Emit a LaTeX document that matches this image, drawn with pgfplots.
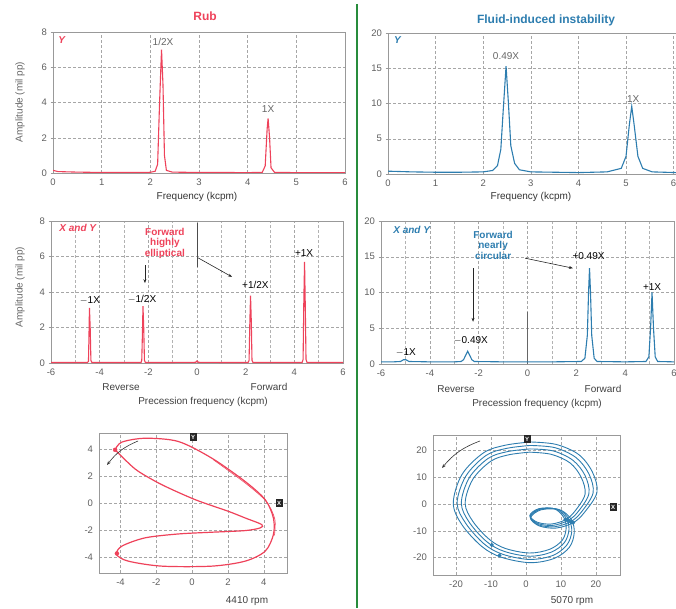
\documentclass[border=0pt]{standalone}
\usepackage{fontspec}
\setmainfont{Liberation Sans}
\usepackage{pgfplots}
\pgfplotsset{compat=1.18}
\usetikzlibrary{arrows.meta}
\definecolor{rubred}{RGB}{238,66,90}
\definecolor{fluidblue}{RGB}{45,125,175}
\definecolor{sepgreen}{RGB}{40,140,60}
\definecolor{tickgray}{RGB}{95,95,95}
\pgfplotsset{
 panel/.style={scale only axis, anchor=south west,
   axis line style={black!40}, tick style={black!40}, tick align=outside,
   major tick length=2.5pt, xtick style={draw=none}, ytick pos=left,
   grid=major, major grid style={densely dashed, black!35, line width=0.4pt},
   minor grid style={densely dashed, black!30, line width=0.4pt},
   tick label style={font=\fontsize{9.5}{11}\selectfont, text=tickgray},
   /pgf/number format/assume math mode=true},
}
\newcommand{\lab}{\fontsize{10}{12}\selectfont}
\newcommand{\ann}{\fontsize{10}{12}\selectfont}
\begin{document}
\begin{tikzpicture}
\path[use as bounding box] (0pt,0pt) rectangle (676pt,608pt);
% separator
\draw[sepgreen, line width=1.2pt] (357pt,604pt) -- (357pt,0pt);
% titles
\node[text=rubred, font=\fontsize{12}{14}\bfseries\selectfont] at (205pt,592pt) {Rub};
\node[text=fluidblue, font=\fontsize{12}{14}\bfseries\selectfont] at (546pt,588pt) {Fluid-induced instability};

% ---------- Panel 1: Rub, Y spectrum
\begin{axis}[panel, at={(53pt,435pt)}, width=292pt, height=141pt,
  xmin=0, xmax=6, ymin=0, ymax=8, xtick={0,1,...,6}, ytick={0,2,...,8}]
\addplot[rubred, line width=1.1pt] coordinates {
(0,0.15) (0.1,0.08) (0.5,0.05) (1,0.03) (1.5,0.03) (2,0.04) (2.1,0.1) (2.15,0.5)
(2.19,4) (2.23,7.0) (2.26,5) (2.29,1) (2.33,0.15) (2.45,0.05) (3,0.03) (3.5,0.03)
(4,0.02) (4.3,0.04) (4.36,0.4) (4.4,2.5) (4.42,3.1) (4.45,2) (4.48,0.3) (4.55,0.04)
(5,0.02) (6,0.02)};
\node[text=rubred, font=\ann\bfseries\itshape] at (axis cs:0.18,7.55) {Y};
\node[text=black!60, font=\ann] at (axis cs:2.26,7.44) {1/2X};
\node[text=black!60, font=\ann] at (axis cs:4.42,3.6) {1X};
\end{axis}
\node[font=\lab, text=black!80] at (197pt,411pt) {Frequency (kcpm)};
\node[font=\lab, text=black!60, rotate=90] at (20pt,506pt) {Amplitude (mil pp)};

% ---------- Panel 2: Fluid, Y spectrum
\begin{axis}[panel, at={(388pt,434pt)}, width=288pt, height=141pt,
  xmin=0, xmax=6.05, ymin=0, ymax=20, xtick={0,1,...,6}, ytick={0,5,...,20}]
\addplot[fluidblue, line width=1.1pt] coordinates {
(0,0.4) (0.5,0.3) (1,0.25) (1.5,0.25) (2,0.3) (2.2,0.5) (2.3,1.2) (2.37,3.5)
(2.42,9) (2.48,15.3) (2.53,10) (2.58,4) (2.66,1.5) (2.76,0.6) (3,0.3) (3.5,0.25)
(4,0.2) (4.6,0.3) (4.9,0.8) (5.0,2.5) (5.07,7) (5.12,9.6) (5.17,7) (5.25,2.5)
(5.35,0.8) (5.55,0.3) (6.05,0.2)};
\node[text=fluidblue, font=\ann\bfseries\itshape] at (axis cs:0.2,19.0) {Y};
\node[text=black!60, font=\ann] at (axis cs:2.48,16.7) {0.49X};
\node[text=black!60, font=\ann] at (axis cs:5.15,10.7) {1X};
\end{axis}
\node[font=\lab, text=black!80] at (531pt,411pt) {Frequency (kcpm)};

% ---------- Panel 3: Rub, full spectrum
\begin{axis}[panel, at={(51pt,245pt)}, width=292pt, height=142pt,
  xmin=-6, xmax=6, ymin=0, ymax=8, xtick={-6,-4,...,6}, ytick={0,2,...,8},
  minor x tick num=1, xminorgrids=true]
\addplot[black!70, line width=0.6pt, forget plot] coordinates {(0,5.4) (0,7.9)};
\addplot[rubred, line width=1.1pt] coordinates {
(-6,0.03) (-5,0.03) (-4.5,0.03) (-4.46,0.1) (-4.44,1.5) (-4.42,3.1) (-4.39,2.0)
(-4.36,0.15) (-4.32,0.03) (-3,0.03) (-2.3,0.03) (-2.27,0.15) (-2.24,1.8) (-2.22,3.2)
(-2.19,2.0) (-2.16,0.15) (-2.12,0.03) (-1,0.03) (-0.05,0.04) (0,0.12) (0.05,0.04)
(1,0.03) (2.1,0.03) (2.14,0.15) (2.17,2.2) (2.2,3.8) (2.23,2.4) (2.26,0.15)
(2.3,0.03) (3.5,0.03) (4.32,0.03) (4.36,0.2) (4.39,3.5) (4.42,5.7) (4.45,3.2)
(4.48,0.2) (4.52,0.03) (6,0.03)};
\node[text=rubred, font=\ann\bfseries\itshape, anchor=west] at (axis cs:-5.8,7.6) {X and Y};
\node[text=rubred, font=\ann\bfseries, align=center, inner sep=0pt] at (axis cs:-1.32,6.76)
  {Forward\\[-1.5pt]highly\\[-1.5pt]elliptical};
\node[text=black, font=\ann] at (axis cs:-4.4,3.55) {$-$1X};
\node[text=black, font=\ann] at (axis cs:-2.26,3.6) {$-$1/2X};
\node[text=black, font=\ann] at (axis cs:2.4,4.4) {+1/2X};
\node[text=black, font=\ann] at (axis cs:4.4,6.2) {+1X};
\draw[-{Stealth[length=4pt]}, black!85, line width=0.6pt] (axis cs:-2.14,5.52) -- (axis cs:-2.14,4.5);
\draw[-{Stealth[length=4pt]}, black!85, line width=0.6pt] (axis cs:0.05,5.92) -- (axis cs:1.44,4.85);
\end{axis}
\node[font=\lab, text=black!75] at (121pt,221pt) {Reverse};
\node[font=\lab, text=black!75] at (269pt,221pt) {Forward};
\node[font=\lab, text=black!75] at (203pt,206pt) {Precession frequency (kcpm)};
\node[font=\lab, text=black!60, rotate=90] at (20pt,321pt) {Amplitude (mil pp)};

% ---------- Panel 4: Fluid, full spectrum
\begin{axis}[panel, at={(381pt,244pt)}, width=293pt, height=143pt,
  xmin=-6, xmax=6, ymin=0, ymax=20, xtick={-6,-4,...,6}, ytick={0,5,...,20},
  minor x tick num=1, xminorgrids=true]
\addplot[black!60, line width=0.8pt, forget plot] coordinates {(0,0) (0,7.3)};
\addplot[fluidblue, line width=1.1pt] coordinates {
(-6,0.3) (-5.5,0.3) (-5.2,0.35) (-5.08,0.6) (-4.98,0.6) (-4.85,0.35) (-4,0.3)
(-3,0.3) (-2.72,0.35) (-2.62,0.6) (-2.52,1.3) (-2.45,1.8) (-2.38,1.3) (-2.28,0.6)
(-2.18,0.35) (-1,0.3) (0,0.3) (1,0.3) (2.2,0.35) (2.35,0.8) (2.45,4) (2.5,10)
(2.54,13.4) (2.58,10) (2.63,4) (2.73,0.8) (2.85,0.35) (4,0.3) (4.85,0.35) (4.97,1)
(5.04,5) (5.1,10) (5.16,5) (5.23,1) (5.33,0.35) (6,0.3)};
\node[text=fluidblue, font=\ann\bfseries\itshape, anchor=west] at (axis cs:-5.64,18.7) {X and Y};
\node[text=fluidblue, font=\ann\bfseries, align=center, inner sep=0pt] at (axis cs:-1.41,16.6)
  {Forward\\[-1.5pt]nearly\\[-1.5pt]circular};
\node[text=black, font=\ann] at (axis cs:-4.98,1.6) {$-$1X};
\node[text=black, font=\ann] at (axis cs:-2.32,3.3) {$-$0.49X};
\node[text=black, font=\ann] at (axis cs:2.5,15.1) {+0.49X};
\node[text=black, font=\ann] at (axis cs:5.1,10.8) {+1X};
\draw[-{Stealth[length=4pt]}, black!85, line width=0.6pt] (axis cs:-2.23,13.4) -- (axis cs:-2.23,5.9);
\draw[-{Stealth[length=4pt]}, black!85, line width=0.6pt] (axis cs:-0.1,14.8) -- (axis cs:1.86,13.4);
\end{axis}
\node[font=\lab, text=black!75] at (456pt,219pt) {Reverse};
\node[font=\lab, text=black!75] at (603pt,219pt) {Forward};
\node[font=\lab, text=black!75] at (537pt,204pt) {Precession frequency (kcpm)};

% ---------- Panel 5: Rub orbit
\begin{axis}[panel, at={(99pt,35pt)}, width=188pt, height=140pt,
  xmin=-5.2, xmax=5.3, ymin=-5.2, ymax=5.2, xtick={-4,-2,...,4}, ytick={-4,-2,...,4},
  ytick style={draw=none}]
\addplot[rubred, line width=1.2pt, smooth, tension=0.5] coordinates {
(-4.3,3.95) (-3.93,4.52) (-2.63,4.81) (-0.77,4.57) (1.1,3.33) (2.96,1.6) (4.08,0.25)
(4.54,-1.11) (4.54,-2.35) (4.08,-3.58) (2.96,-4.32) (1.1,-4.69) (-1.69,-4.69)
(-3.56,-4.32) (-4.21,-3.83) (-3.93,-3.21) (-2.63,-2.59) (-0.77,-2.30) (1.1,-2.17)
(2.96,-2.05) (3.8,-1.85) (3.89,-1.6) (2.96,-1.11) (2.03,-0.62) (0.17,0.25)
(-1.69,1.36) (-3.0,2.35) (-3.65,3.09) (-4.3,3.95)};
\addplot[rubred, line width=0.6pt, smooth, tension=0.5] coordinates {
(1.2,3.2) (3.0,1.45) (4.15,0.1) (4.62,-1.2) (4.6,-2.4)};
\addplot[only marks, mark=*, mark size=2pt, rubred] coordinates {(-4.3,3.95) (-4.2,-3.75)};
\end{axis}
\node[fill=black!85, text=white, font=\fontsize{6}{6}\bfseries\selectfont, inner sep=1.5pt] at (193pt,171pt) {Y};
\node[fill=black!85, text=white, font=\fontsize{6}{6}\bfseries\selectfont, inner sep=1.5pt] at (279pt,105pt) {X};
\draw[-{Stealth[length=4pt]}, black!80, line width=0.6pt] (138pt,167pt) to[bend right=15] (107pt,143pt);
\node[font=\lab, text=black!75] at (247pt,7pt) {4410 rpm};

% ---------- Panel 6: Fluid orbit
\begin{axis}[panel, at={(433pt,33pt)}, width=187pt, height=140pt,
  xmin=-26.6, xmax=26.9, ymin=-26.5, ymax=25.7, xtick={-20,-10,...,20}, ytick={-20,-10,...,20},
  ytick style={draw=none}]
\addplot[fluidblue, line width=0.9pt, smooth, tension=0.55] coordinates {
(1.0,19.3) (-5.0,18.3) (-10.1,15.9) (-15.2,9.2) (-17.4,0.3) (-15.2,-6.5) (-10.5,-13.2)
(-5.9,-16.6) (1.0,-18.3) (6.8,-16.9) (10.4,-13.5) (11.5,-9.0) (10.8,-5.0) (8.1,-1.8)
(3.6,-1.8) (1.1,-4.3) (3.2,-6.8) (7.2,-7.5) (11.3,-5.9) (14.0,-2.7) (16.9,3.6)
(15.8,9.9) (12.6,15.3) (7.2,18.5) (1.0,19.3)};
\addplot[fluidblue, line width=0.9pt, smooth, tension=0.55] coordinates {
(1.1,20.5) (-5.3,19.5) (-10.8,17.0) (-16.2,9.8) (-18.5,0.3) (-16.2,-6.9) (-11.2,-14.1)
(-6.2,-17.7) (1.1,-19.5) (7.2,-18.0) (11.0,-14.4) (12.3,-9.6) (11.5,-5.3) (8.6,-1.9)
(3.8,-1.9) (1.2,-4.6) (3.4,-7.3) (7.7,-8.0) (12.0,-6.2) (14.9,-2.9) (18.0,3.8)
(16.9,10.6) (13.4,16.3) (7.7,19.8) (1.1,20.5)};
\addplot[fluidblue, line width=0.9pt, smooth, tension=0.55] coordinates {
(1.1,21.8) (-5.6,20.7) (-11.4,18.1) (-17.2,10.4) (-19.7,0.3) (-17.2,-7.3) (-11.9,-15.0)
(-6.6,-18.8) (1.1,-20.7) (7.7,-19.2) (11.7,-15.3) (13.1,-10.2) (12.2,-5.6) (9.2,-2.0)
(4.1,-2.0) (1.2,-4.9) (3.6,-7.8) (8.2,-8.5) (12.8,-6.6) (15.8,-3.1) (19.2,4.1)
(18.0,11.2) (14.3,17.3) (8.2,21.0) (1.1,21.8)};
\addplot[fluidblue, line width=0.9pt, smooth, tension=0.55] coordinates {
(1.2,23.1) (-5.9,21.9) (-12.1,19.1) (-18.3,11.0) (-20.8,0.3) (-18.3,-7.8) (-12.6,-15.9)
(-7.0,-19.9) (1.2,-21.9) (8.1,-20.3) (12.4,-16.2) (13.8,-10.8) (13.0,-5.9) (9.7,-2.2)
(4.3,-2.2) (1.3,-5.2) (3.8,-8.2) (8.6,-9.0) (13.5,-7.0) (16.7,-3.2) (20.3,4.3)
(19.0,11.9) (15.1,18.4) (8.6,22.2) (1.2,23.1)};
\addplot[only marks, mark=*, mark size=1.8pt, fluidblue] coordinates {
(-9.8,-15.3) (-7.6,-19.2) (11.3,-5.9) (12.0,-6.2) (12.8,-6.6) (13.5,-7.0)};
\end{axis}
\node[fill=black!85, text=white, font=\fontsize{6}{6}\bfseries\selectfont, inner sep=1.5pt] at (527pt,169pt) {Y};
\node[fill=black!85, text=white, font=\fontsize{6}{6}\bfseries\selectfont, inner sep=1.5pt] at (613pt,101pt) {X};
\draw[-{Stealth[length=4pt]}, black!80, line width=0.6pt] (480pt,167pt) to[bend right=15] (442pt,140pt);
\node[font=\lab, text=black!75] at (572pt,7pt) {5070 rpm};
\end{tikzpicture}
\end{document}
